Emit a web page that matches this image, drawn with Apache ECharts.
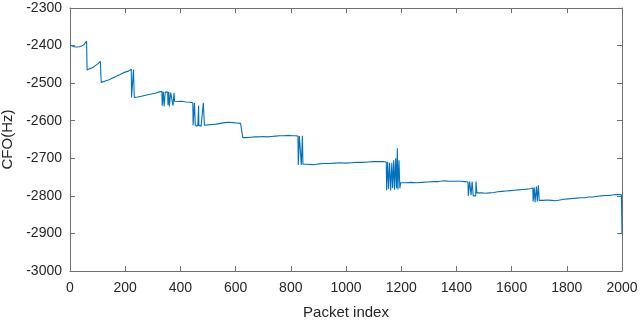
<!DOCTYPE html>
<html>
<head>
<meta charset="utf-8">
<script src="https://cdn.jsdelivr.net/npm/echarts@6/dist/echarts.min.js"></script>
<style>
  html, body { margin: 0; padding: 0; background: #fff; }
  #cfo { width: 640px; height: 321px; }
</style>
</head>
<body>
<div id="cfo"></div>
<script>
// tick setup
var xTicks = [0, 200, 400, 600, 800, 1000, 1200, 1400, 1600, 1800, 2000];
var yTicks = [-3000, -2900, -2800, -2700, -2600, -2500, -2400, -2300];

// [packet index, CFO in Hz]
var cfoTrace = [
  [0,-2398],[5,-2399],[10,-2402],[18,-2404],[26,-2404],[34,-2403],[42,-2401],[50,-2398],[56,-2393],[60,-2388],
  [62,-2465],[70,-2462],[78,-2460],[86,-2457],[94,-2452],[102,-2448],[110,-2442],[112,-2438],
  [113,-2498],[122,-2496],[132,-2493],[142,-2491],[152,-2487],[162,-2484],[172,-2480],[182,-2477],[192,-2473],[202,-2470],[212,-2468],[222,-2463],
  [223,-2538],[229,-2539],[230,-2464],[232,-2464],[233,-2538],[245,-2537],[258,-2535],[270,-2533],[282,-2531],[295,-2529],[308,-2527],[320,-2524],[333,-2522],
  [334,-2560],[337,-2560],[338,-2523],[340,-2523],[341,-2562],[344,-2562],[345,-2524],[354,-2524],[355,-2558],[357,-2558],[358,-2523],[359,-2523],[360,-2562],[364,-2562],[365,-2525],[372,-2525],[373,-2560],[376,-2560],[377,-2526],[378,-2526],[379,-2548],
  [390,-2549],[405,-2548],[420,-2550],[435,-2551],[445,-2552],
  [446,-2612],[450,-2612],[451,-2552],[453,-2552],[454,-2613],[463,-2614],[465,-2613],[466,-2560],[467,-2613],[475,-2615],[482,-2614],[483,-2552],[486,-2552],[487,-2612],
  [500,-2611],[515,-2610],[530,-2609],[545,-2607],[560,-2605],[575,-2604],[590,-2605],[605,-2606],[618,-2607],[625,-2607],
  [626,-2645],[640,-2645],[655,-2644],[670,-2643],[685,-2643],[700,-2642],[715,-2643],[730,-2642],[745,-2641],[760,-2640],[775,-2640],[790,-2639],[805,-2640],[818,-2640],[826,-2641],
  [827,-2718],[830,-2718],[831,-2641],[837,-2641],[838,-2718],[841,-2718],[842,-2640],[843,-2640],[844,-2716],
  [860,-2716],[880,-2717],[900,-2715],[920,-2714],[940,-2714],[960,-2713],[980,-2712],[1000,-2713],[1020,-2712],[1040,-2711],[1060,-2711],[1080,-2710],[1100,-2709],[1120,-2709],[1135,-2709],[1146,-2710],
  [1147,-2785],[1150,-2785],[1151,-2710],[1153,-2710],[1154,-2782],[1157,-2782],[1158,-2712],[1161,-2712],[1162,-2786],[1165,-2786],[1166,-2712],[1168,-2712],[1169,-2780],[1172,-2780],[1173,-2705],[1175,-2705],[1176,-2784],[1179,-2784],[1180,-2700],[1182,-2700],[1183,-2780],[1185,-2780],[1186,-2673],[1187,-2673],[1188,-2783],[1191,-2783],[1192,-2705],[1194,-2705],[1195,-2780],[1197,-2780],[1198,-2765],
  [1215,-2765],[1235,-2764],[1255,-2765],[1275,-2764],[1295,-2763],[1315,-2762],[1335,-2762],[1355,-2760],[1375,-2761],[1395,-2761],[1415,-2761],[1430,-2762],[1442,-2763],
  [1443,-2800],[1447,-2800],[1448,-2762],[1452,-2762],[1453,-2798],[1456,-2798],[1457,-2762],[1460,-2762],[1461,-2800],[1470,-2800],[1471,-2762],[1473,-2762],[1474,-2792],
  [1490,-2792],[1505,-2793],[1520,-2792],[1535,-2791],[1550,-2789],[1565,-2788],[1580,-2787],[1595,-2786],[1610,-2785],[1625,-2784],[1640,-2783],[1655,-2782],[1668,-2781],[1677,-2779],
  [1678,-2815],[1681,-2815],[1682,-2778],[1684,-2778],[1685,-2817],[1689,-2817],[1690,-2775],[1692,-2775],[1693,-2815],[1696,-2815],[1697,-2772],[1699,-2772],[1700,-2812],[1702,-2812],
  [1715,-2812],[1730,-2811],[1745,-2812],[1760,-2813],[1775,-2811],[1790,-2809],[1805,-2808],[1820,-2807],[1835,-2806],[1850,-2805],[1865,-2805],[1880,-2803],[1895,-2803],[1910,-2801],[1925,-2800],[1940,-2799],[1955,-2799],[1970,-2797],[1985,-2796],[1998,-2797],[2000,-2900]
];

var chart = echarts.init(document.getElementById('cfo'));

var axisGray = '#707070';
var textGray = '#262626';
var font = 'Liberation Sans';

function plain(v) { return String(v); }

function frameAxis(pos, isX) {
  // box edges with inward ticks, no labels
  var ax = {
    type: 'value',
    position: pos,
    min: isX ? xTicks[0] : yTicks[0],
    max: isX ? xTicks[xTicks.length - 1] : yTicks[yTicks.length - 1],
    interval: isX ? 200 : 100,
    axisLine: { show: true, onZero: false, lineStyle: { color: axisGray, width: 1 } },
    axisTick: { show: true, inside: true, length: 5, lineStyle: { color: axisGray } },
    axisLabel: { show: false },
    splitLine: { show: false }
  };
  return ax;
}

var bottomX = frameAxis('bottom', true);
bottomX.axisLabel = { show: true, color: textGray, fontFamily: font, fontSize: 14, margin: 10, formatter: plain };
bottomX.name = 'Packet index';
bottomX.nameLocation = 'middle';
bottomX.nameGap = 34;
bottomX.nameTextStyle = { color: textGray, fontFamily: font, fontSize: 15 };

var leftY = frameAxis('left', false);
leftY.axisLabel = { show: true, color: textGray, fontFamily: font, fontSize: 14, margin: 8, formatter: plain };
leftY.name = 'CFO(Hz)';
leftY.nameLocation = 'middle';
leftY.nameGap = 52;
leftY.nameRotate = 90;
leftY.nameTextStyle = { color: textGray, fontFamily: font, fontSize: 15 };

var option = {
  animation: false,
  backgroundColor: '#fff',
  grid: { left: 70, right: 18, top: 8, bottom: 50, containLabel: false, outerBoundsMode: 'none' },
  xAxis: [bottomX, frameAxis('top', true)],
  yAxis: [leftY, frameAxis('right', false)],
  series: [{
    type: 'line',
    data: cfoTrace,
    xAxisIndex: 0,
    yAxisIndex: 0,
    showSymbol: false,
    lineStyle: { color: '#0072BD', width: 1.1 },
    itemStyle: { color: '#0072BD' }
  }]
};

chart.setOption(option);
</script>
</body>
</html>
